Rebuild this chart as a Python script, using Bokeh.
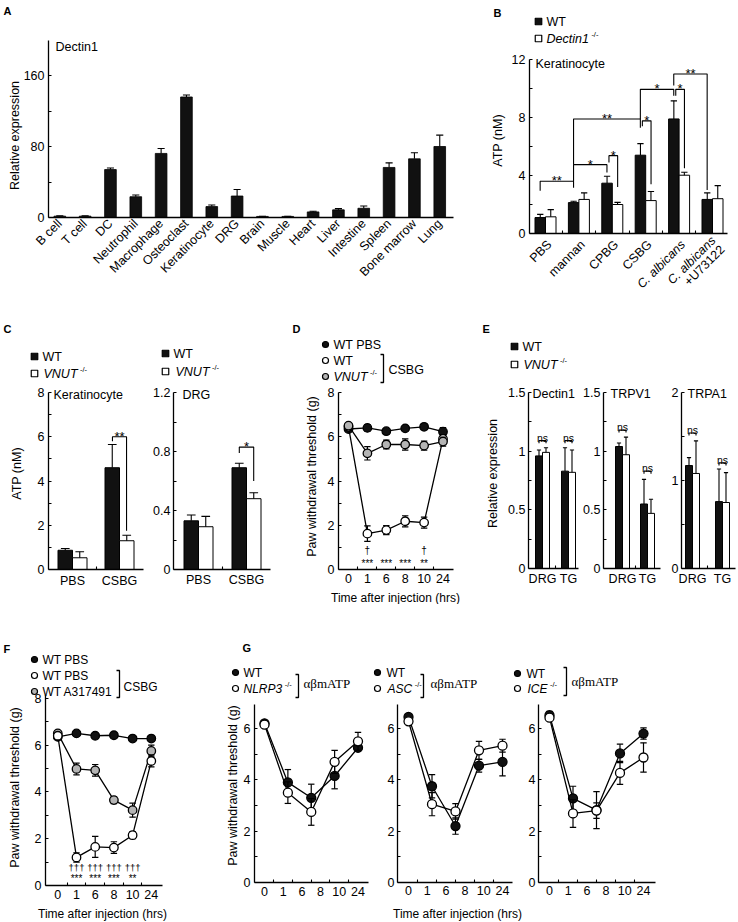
import math
from bokeh.plotting import figure
from bokeh.layouts import row, column
from bokeh.models import Label, FixedTicker, Range1d, CustomJSTickFormatter
from bokeh.embed import file_html
from bokeh.resources import INLINE

# ======================= DATA =======================
# A  Dectin1 expression
a_cells = ["B cell", "T cell", "DC", "Neutrophil", "Macrophage", "Osteoclast",
           "Keratinocyte", "DRG", "Brain", "Muscle", "Heart", "Liver",
           "Intestine", "Spleen", "Bone marrow", "Lung"]
a_expr = [1.5, 1.5, 54.0, 23.4, 72.2, 135.8, 12.3, 24.2, 1.2, 1.2, 6.3, 8.6, 10.4, 56.4, 66.1, 80.0]
a_err = [1.8, 1.8, 55.8, 25.3, 77.8, 138.0, 14.1, 31.6, 1.4, 1.4, 7.1, 10.0, 13.0, 61.6, 72.9, 92.8]
a_yticks = [0, 80, 160]
a_yminor = [40, 120]

# B  ATP release from keratinocytes
b_treat = ["PBS", "mannan", "CPBG", "CSBG", "C. albicans", "C. albicans"]
b_treat2 = ["", "", "", "", "", "+U73122"]
b_wt = [1.1, 2.13, 3.47, 5.4, 7.9, 2.35]
b_wt_err = [1.32, 2.22, 3.95, 6.2, 9.15, 2.8]
b_ko = [1.15, 2.35, 2.0, 2.27, 4.02, 2.4]
b_ko_err = [1.65, 2.8, 2.15, 2.9, 4.22, 3.3]
b_yticks = [0, 4, 8, 12]
b_yminor = [2, 6, 10]
b_sig_x0 = [-0.16, 0.84, 1.9, 0.84, 2.9, 2.84, 3.9, 3.84]
b_sig_x1 = [0.84, 1.84, 2.16, 2.84, 3.16, 3.84, 4.16, 4.84]
b_sig_y = [3.6, 4.75, 5.37, 7.9, 7.77, 9.94, 9.94, 11.0]
b_sig_yl = [2.95, 3.6, 4.9, 4.75, 7.4, 7.9, 9.5, 10.2]
b_sig_yr = [3.15, 4.2, 3.2, 7.3, 3.4, 9.5, 4.5, 3.0]
b_sig_txt = ["**", "*", "*", "**", "*", "*", "*", "**"]

# C  ATP release, WT vs VNUT-/-
c_groups = ["PBS", "CSBG"]
c_ker_wt = [0.87, 4.6]
c_ker_wt_err = [0.95, 5.65]
c_ker_ko = [0.53, 1.3]
c_ker_ko_err = [0.8, 1.55]
c_ker_sig = [0.85, 1.15, 6.0, 5.8, 1.75, "**"]
c_drg_wt = [0.33, 0.69]
c_drg_wt_err = [0.37, 0.72]
c_drg_ko = [0.29, 0.48]
c_drg_ko_err = [0.36, 0.52]
c_drg_sig = [0.85, 1.15, 0.83, 0.79, 0.6, "*"]

# D  paw withdrawal threshold
t_labels = ["0", "1", "6", "8", "10", "24"]
d_wt_pbs = [6.35, 6.4, 6.25, 6.38, 6.45, 6.23]
d_wt_pbs_err = [0.1, 0.15, 0.12, 0.1, 0.12, 0.18]
d_wt_csbg = [6.45, 1.62, 1.78, 2.18, 2.12, 5.9]
d_wt_csbg_err = [0.1, 0.35, 0.2, 0.25, 0.25, 0.2]
d_vnut_csbg = [6.5, 5.25, 5.65, 5.65, 5.6, 5.78]
d_vnut_csbg_err = [0.1, 0.3, 0.2, 0.25, 0.2, 0.2]
d_dagger = ["", "\u2020", "", "", "\u2020", ""]
d_stars = ["", "***", "***", "***", "**", ""]

# E  relative expression DRG / TG
e_tissue = ["DRG", "TG"]
e_dectin_wt = [0.96, 0.83]
e_dectin_wt_err = [1.01, 1.03]
e_dectin_ko = [0.99, 0.82]
e_dectin_ko_err = [1.03, 1.01]
e_dectin_ns = [1.09, 1.09]
e_trpv1_wt = [1.04, 0.55]
e_trpv1_wt_err = [1.07, 0.76]
e_trpv1_ko = [0.97, 0.47]
e_trpv1_ko_err = [1.12, 0.59]
e_trpv1_ns = [1.18, 0.83]
e_trpa1_wt = [1.17, 0.76]
e_trpa1_wt_err = [1.26, 1.13]
e_trpa1_ko = [1.08, 0.75]
e_trpa1_ko_err = [1.45, 1.09]
e_trpa1_ns = [1.54, 1.2]

# F  paw withdrawal threshold with A317491
f_wt_pbs = [6.35, 6.5, 6.4, 6.42, 6.28, 6.28]
f_wt_pbs_err = [0.1, 0.12, 0.1, 0.1, 0.1, 0.12]
f_csbg_pbs = [6.4, 1.2, 1.65, 1.62, 2.15, 5.32]
f_csbg_pbs_err = [0.1, 0.2, 0.45, 0.25, 0.15, 0.25]
f_csbg_a317 = [6.5, 4.98, 4.92, 3.65, 3.22, 5.75]
f_csbg_a317_err = [0.1, 0.25, 0.25, 0.15, 0.3, 0.25]
f_dagger = ["", "\u2020\u2020\u2020", "\u2020\u2020\u2020", "\u2020\u2020\u2020", "\u2020\u2020\u2020", ""]
f_stars = ["", "***", "***", "***", "**", ""]

# G  abmATP in inflammasome knockouts
g_pos = [0, 1.25, 2.5, 3.75, 5]
g_nlrp3_wt = [6.2, 3.9, 3.3, 4.15, 5.25]
g_nlrp3_wt_err = [0.1, 0.5, 0.53, 0.5, 0.12]
g_nlrp3_ko = [6.15, 3.5, 2.75, 4.7, 5.5]
g_nlrp3_ko_err = [0.1, 0.42, 0.52, 0.45, 0.35]
g_asc_wt = [6.45, 3.75, 2.2, 4.55, 4.7]
g_asc_wt_err = [0.1, 0.45, 0.32, 0.25, 0.55]
g_asc_ko = [6.28, 3.05, 2.77, 5.15, 5.33]
g_asc_ko_err = [0.1, 0.45, 0.3, 0.35, 0.25]
g_ice_wt = [6.52, 3.28, 2.82, 5.03, 5.8]
g_ice_wt_err = [0.15, 0.47, 0.72, 0.36, 0.22]
g_ice_ko = [6.42, 2.69, 2.8, 4.27, 4.87]
g_ice_ko_err = [0.1, 0.54, 0.3, 0.45, 0.57]

# ======================= STYLE / HELPERS =======================
SC = 1.0
FONT = "Liberation Sans"
SERIF = "Liberation Serif"
BLACK = "#111111"
GREY = "#b4b4b4"


def S(v):
    return int(round(v * SC))


def fs(v):
    return "%.1fpx" % (v * SC)


_W = dict(zip("ABCDEFGHIJKLMNOPQRSTUVWXYZ",
              [667, 667, 722, 722, 667, 611, 778, 722, 278, 500, 667, 556, 833, 722, 778, 667, 778, 722,
               667, 611, 722, 667, 944, 667, 667, 611]))
_W.update(zip("abcdefghijklmnopqrstuvwxyz",
              [556, 556, 500, 556, 556, 278, 556, 556, 222, 222, 500, 222, 833, 556, 556, 556, 556, 333,
               500, 278, 556, 500, 722, 500, 500, 500]))
_W.update({str(d): 556 for d in range(10)})
_W.update({" ": 278, "-": 333, "/": 278, ".": 278, "(": 333, ")": 333, "+": 584})


def tw(s, size):
    return sum(_W.get(c, 556) for c in s) * size / 1000.0


PANELS = []


class Pan:
    """One sub-plot. box = canvas area (ref px); axis = (y-axis x px, x-axis end px, zero-line y px)."""

    def __init__(self, box, axis, x0px, xstep, yunit, ytop, yticks, yminor, standoff=3):
        self.box = box
        bx0, by0, bx1, by1 = box
        ax0, ax1, ybot = axis
        self.x0px, self.xstep, self.y0px, self.yunit = x0px, xstep, ybot, yunit
        p = figure(frame_width=S(bx1) - S(bx0), frame_height=S(by1) - S(by0),
                   min_border_left=0, min_border_right=0, min_border_top=0, min_border_bottom=0,
                   x_range=Range1d(self.xd(bx0), self.xd(bx1)),
                   y_range=Range1d(self.yd(by1), self.yd(by0)),
                   output_backend="svg", toolbar_location=None, tools="", title=None)
        p.outline_line_color = None
        p.xgrid.visible = False
        p.ygrid.visible = False
        p.background_fill_color = "white"
        p.border_fill_color = "white"
        for ax in (p.xaxis[0], p.yaxis[0]):
            ax.axis_line_color = "black"
            ax.axis_line_width = 1.3
            ax.major_tick_line_color = "black"
            ax.minor_tick_line_color = "black"
            ax.major_tick_line_width = 1.1
            ax.minor_tick_line_width = 1.1
            ax.major_tick_in = 3
            ax.major_tick_out = 0
            ax.minor_tick_in = 3
            ax.minor_tick_out = 0
            ax.major_label_text_font = FONT
            ax.major_label_text_font_size = fs(12.5)
            ax.major_label_text_color = "black"
            ax.major_label_standoff = standoff
        ya = p.yaxis[0]
        ya.ticker = FixedTicker(ticks=yticks, minor_ticks=yminor)
        ya.formatter = CustomJSTickFormatter(code="return String(Math.round(tick * 1000) / 1000);")
        ya.bounds = (0, ytop)
        ya.fixed_location = self.xd(ax0)
        xa = p.xaxis[0]
        xa.fixed_location = 0
        xa.bounds = (self.xd(ax0), self.xd(ax1))
        xa.ticker = FixedTicker(ticks=[], minor_ticks=[])
        self.p = p
        PANELS.append(self)

    def xd(self, px):
        return (px - self.x0px) / self.xstep

    def yd(self, py):
        return (self.y0px - py) / self.yunit

    def xcats(self, labels, minor=None, angle=None):
        xa = self.p.xaxis[0]
        xa.ticker = FixedTicker(ticks=list(range(len(labels))), minor_ticks=minor or [])
        xa.major_label_overrides = {i: s for i, s in enumerate(labels)}
        xa.major_tick_in = 0
        if angle:
            xa.major_label_orientation = angle

    def text(self, x, y, txt, size=12.5, align="center", baseline="middle", font=FONT,
             style="normal", color="black", angle=0.0):
        self.p.add_layout(Label(x=x, y=y, text=txt, text_font=font, text_font_size=fs(size),
                                text_font_style=style, text_color=color, text_align=align,
                                text_baseline=baseline, angle=angle))


def find(px, py):
    for pn in PANELS:
        if pn.box[0] <= px < pn.box[2] and pn.box[1] <= py < pn.box[3]:
            return pn
    return PANELS[-1]


def put(px, py, txt, size=12.5, align="left", baseline="middle", font=FONT, style="normal",
        color="black", angle=0.0):
    pn = find(px, py)
    pn.text(pn.xd(px), pn.yd(py), txt, size, align, baseline, font, style, color, angle)


def mark(px, py, kind, size=6.5):
    pn = find(px, py)
    marker = "square" if kind.startswith("sq") else "circle"
    fill = BLACK if kind.endswith("black") else ("white" if kind.endswith("white") else GREY)
    pn.p.scatter([pn.xd(px)], [pn.yd(py)], marker=marker, size=size * SC, fill_color=fill,
                 line_color="black", line_width=1.2)


def italic_sup(px, py, main, size=12.5):
    put(px, py, main, size, style="italic")
    put(px + tw(main, size) + 2.5, py - 4, "-/-", 7.5)


def legend_bracket(px, py0, py1, stub=3):
    pn = find(px, py0)
    pn.p.line([pn.xd(px - stub), pn.xd(px), pn.xd(px), pn.xd(px - stub)],
              [pn.yd(py0), pn.yd(py0), pn.yd(py1), pn.yd(py1)],
              line_color="black", line_width=1.3)


def err_up(p, xs, tops, errs, cap, lw=1.1):
    p.segment(x0=xs, y0=tops, x1=xs, y1=errs, line_color="black", line_width=lw)
    p.segment(x0=[x - cap for x in xs], y0=errs, x1=[x + cap for x in xs], y1=errs,
              line_color="black", line_width=lw)


def err_both(p, xs, ys, es, cap, lw=1.2):
    lo = [y - e for y, e in zip(ys, es)]
    hi = [y + e for y, e in zip(ys, es)]
    p.segment(x0=xs, y0=lo, x1=xs, y1=hi, line_color="black", line_width=lw)
    for yy in (lo, hi):
        p.segment(x0=[x - cap for x in xs], y0=yy, x1=[x + cap for x in xs], y1=yy,
                  line_color="black", line_width=lw)


def grouped(pn, wt, wt_err, ko, ko_err, bw_px):
    bw = bw_px / pn.xstep
    xw = [i - bw / 2 for i in range(len(wt))]
    xk = [i + bw / 2 for i in range(len(ko))]
    pn.p.vbar(x=xw, top=wt, width=bw, fill_color=BLACK, line_color="black", line_width=1)
    pn.p.vbar(x=xk, top=ko, width=bw, fill_color="white", line_color="black", line_width=1)
    err_up(pn.p, xw, wt, wt_err, bw * 0.3)
    err_up(pn.p, xk, ko, ko_err, bw * 0.3)
    return bw


def bracket(p, x0, x1, yt, yl, yr, lw=1.1):
    p.line([x0, x0, x1, x1], [yl, yt, yt, yr], line_color="black", line_width=lw)


def series(pn, xs, ys, es, fill, cap_px=3.2, size=8.5):
    p = pn.p
    p.line(xs, ys, line_color="black", line_width=1.3)
    err_both(p, xs, ys, es, cap_px / pn.xstep)
    p.scatter(xs, ys, marker="circle", size=size * SC, fill_color=fill, line_color="black",
              line_width=1.3)


# ======================= PANEL A =======================
pa = Pan((0, 0, 480, 290), (48, 453, 217), 59.3, 25.33, 0.8875, 200, a_yticks, a_yminor, 4)
pa.xcats(a_cells, angle=math.pi / 4)
xa_ = list(range(len(a_cells)))
pa.p.vbar(x=xa_, top=a_expr, width=0.46, fill_color=BLACK, line_color="black", line_width=0.8)
err_up(pa.p, xa_, a_expr, a_err, 0.14)

# ======================= PANEL B =======================
pb = Pan((480, 0, 737, 290), (529, 727, 233), 545, 33.4, 14.5, 12, b_yticks, b_yminor, 4)
pb.p.xaxis[0].ticker = FixedTicker(ticks=[], minor_ticks=[i + 0.5 for i in range(len(b_treat) - 1)])
grouped(pb, b_wt, b_wt_err, b_ko, b_ko_err, 10.5)
for x0, x1, yt, yl, yr, t in zip(b_sig_x0, b_sig_x1, b_sig_y, b_sig_yl, b_sig_yr, b_sig_txt):
    bracket(pb.p, x0, x1, yt, yl, yr)
    pb.text((x0 + x1) / 2, yt + 0.6 / pb.yunit, t, 13, baseline="alphabetic")
for i, (t1, t2) in enumerate(zip(b_treat, b_treat2)):
    st = "italic" if "albicans" in t1 else "normal"
    if t2:
        pb.text(i + 1.0 / pb.xstep, -5.0 / pb.yunit, t1, 12.5, "right", "middle", style=st, angle=math.pi / 4)
        pb.text(i + 10.0 / pb.xstep, -14.0 / pb.yunit, t2, 12.5, "right", "middle", angle=math.pi / 4)
    else:
        pb.text(i + 4.0 / pb.xstep, -9.0 / pb.yunit, t1, 12.5, "right", "middle", style=st, angle=math.pi / 4)

# ======================= PANEL C =======================
pcl = Pan((0, 290, 150, 604), (48, 143, 569), 72, 47, 22.125, 8, [0, 2, 4, 6, 8], [1, 3, 5, 7], 4)
pcl.xcats(c_groups, minor=[0.5])
grouped(pcl, c_ker_wt, c_ker_wt_err, c_ker_ko, c_ker_ko_err, 14.5)
bracket(pcl.p, *c_ker_sig[:5])
pcl.text((c_ker_sig[0] + c_ker_sig[1]) / 2, c_ker_sig[2] + 0.6 / pcl.yunit, c_ker_sig[5], 13, baseline="alphabetic")

pcr = Pan((150, 290, 290, 604), (173, 270, 569), 198, 48, 147.5, 1.2, [0, 0.4, 0.8, 1.2], [0.2, 0.6, 1.0], 3)
pcr.xcats(c_groups, minor=[0.5])
grouped(pcr, c_drg_wt, c_drg_wt_err, c_drg_ko, c_drg_ko_err, 14.5)
bracket(pcr.p, *c_drg_sig[:5])
pcr.text((c_drg_sig[0] + c_drg_sig[1]) / 2, c_drg_sig[2] + 0.6 / pcr.yunit, c_drg_sig[5], 13, baseline="alphabetic")

# ======================= PANEL D =======================
pd_ = Pan((290, 290, 480, 604), (338, 453, 569), 348, 18.9, 22.125, 8, [0, 2, 4, 6, 8], [1, 3, 5, 7], 4)
pd_.xcats(t_labels, minor=[i + 0.5 for i in range(len(t_labels) - 1)])
xt = list(range(len(t_labels)))
series(pd_, xt, d_wt_pbs, d_wt_pbs_err, BLACK)
series(pd_, xt, d_wt_csbg, d_wt_csbg_err, "white")
series(pd_, xt, d_vnut_csbg, d_vnut_csbg_err, GREY)
for i, (dg, st) in enumerate(zip(d_dagger, d_stars)):
    if dg:
        pd_.text(i, 0.85, dg, 10)
    if st:
        pd_.text(i, 0.25, st, 10)

# ======================= PANEL E =======================
pe1 = Pan((480, 290, 581, 604), (528, 578, 568), 542, 26, 117.3, 1.5, [0, 0.5, 1, 1.5], [0.25, 0.75, 1.25], 3)
pe2 = Pan((581, 290, 663, 604), (603, 660, 568), 622, 25, 117.3, 1.5, [0, 0.5, 1, 1.5], [0.25, 0.75, 1.25], 3)
pe3 = Pan((663, 290, 737, 604), (681, 735, 568), 692, 30, 88, 2, [0, 1, 2], [0.5, 1.5], 3)
for pn, wt, wte, ko, koe, ns in ((pe1, e_dectin_wt, e_dectin_wt_err, e_dectin_ko, e_dectin_ko_err, e_dectin_ns),
                                 (pe2, e_trpv1_wt, e_trpv1_wt_err, e_trpv1_ko, e_trpv1_ko_err, e_trpv1_ns),
                                 (pe3, e_trpa1_wt, e_trpa1_wt_err, e_trpa1_ko, e_trpa1_ko_err, e_trpa1_ns)):
    pn.xcats(e_tissue, minor=[0.5])
    bw = grouped(pn, wt, wte, ko, koe, 7)
    for g, yb in enumerate(ns):
        bracket(pn.p, g - bw / 2, g + bw / 2, yb, yb - 2.5 / pn.yunit, yb - 2.5 / pn.yunit)
        pn.text(g, yb + 3.0 / pn.yunit, "ns", 10.5, baseline="alphabetic")

# ======================= PANEL F =======================
pf = Pan((0, 604, 225, 921), (45, 162, 885), 57.3, 18.7, 23.4, 8.1, [0, 2, 4, 6, 8], [1, 3, 5, 7], 4)
pf.xcats(t_labels, minor=[i + 0.5 for i in range(len(t_labels) - 1)])
series(pf, xt, f_wt_pbs, f_wt_pbs_err, BLACK)
series(pf, xt, f_csbg_a317, f_csbg_a317_err, GREY)
series(pf, xt, f_csbg_pbs, f_csbg_pbs_err, "white")
for i, (dg, st) in enumerate(zip(f_dagger, f_stars)):
    if dg:
        pf.text(i, 0.75, dg, 9.5)
    if st:
        pf.text(i, 0.28, st, 10)

# ======================= PANEL G =======================
pg1 = Pan((225, 604, 385, 921), (254, 368, 882), 264, 18.7, 25.67, 6.95, [0, 2, 4, 6], [1, 3, 5], 4)
pg2 = Pan((385, 604, 525, 921), (397, 512, 882), 408, 18.8, 25.67, 6.95, [0, 2, 4, 6], [1, 3, 5], 3)
pg3 = Pan((525, 604, 737, 921), (538, 655, 882), 549, 18.8, 25.67, 6.95, [0, 2, 4, 6], [1, 3, 5], 3)
for pn, wt, wte, ko, koe in ((pg1, g_nlrp3_wt, g_nlrp3_wt_err, g_nlrp3_ko, g_nlrp3_ko_err),
                             (pg2, g_asc_wt, g_asc_wt_err, g_asc_ko, g_asc_ko_err),
                             (pg3, g_ice_wt, g_ice_wt_err, g_ice_ko, g_ice_ko_err)):
    pn.xcats(t_labels, minor=[i + 0.5 for i in range(len(t_labels) - 1)])
    series(pn, g_pos, wt, wte, BLACK, size=9)
    series(pn, g_pos, ko, koe, "white", size=9)

# ======================= TEXT / LEGENDS =======================
# A
put(3, 10, "A", 11, style="bold")
put(55, 46, "Dectin1")
put(14, 135, "Relative expression", align="center", angle=math.pi / 2)
# B
put(493, 12, "B", 11, style="bold")
mark(538, 21, "sq_black")
put(546, 21, "WT")
mark(538, 38, "sq_white")
italic_sup(546, 38, "Dectin1")
put(535, 63, "Keratinocyte")
put(497, 140, "ATP (nM)", align="center", angle=math.pi / 2)
# C
put(3, 328, "C", 11, style="bold")
mark(34, 356, "sq_black")
put(42, 356, "WT")
mark(34, 373, "sq_white")
italic_sup(43, 373, "VNUT")
put(53, 394, "Keratinocyte")
mark(165, 353, "sq_black")
put(173, 353, "WT")
mark(165, 371, "sq_white")
italic_sup(175, 371, "VNUT")
put(182, 394, "DRG")
put(16, 473, "ATP (nM)", align="center", angle=math.pi / 2)
# D
put(292, 328, "D", 11, style="bold")
mark(325, 344, "dot_black", 6)
put(333, 344, "WT PBS")
mark(325, 360, "dot_white", 6)
put(333, 360, "WT")
mark(325, 376, "dot_grey", 6)
italic_sup(333, 376, "VNUT")
legend_bracket(383, 354, 382)
put(388, 369, "CSBG")
put(311, 476, "Paw withdrawal threshold (g)", align="center", angle=math.pi / 2)
put(395, 597, "Time after injection (hrs)", 12, align="center")
# E
put(482, 328, "E", 11, style="bold")
mark(514, 346, "sq_black")
put(522, 346, "WT")
mark(514, 364, "sq_white")
italic_sup(523, 364, "VNUT")
put(532, 393, "Dectin1")
put(610, 393, "TRPV1")
put(687, 393, "TRPA1")
put(492, 473, "Relative expression", align="center", angle=math.pi / 2)
# F
put(3, 648, "F", 11, style="bold")
mark(34, 659, "dot_black", 6)
put(42, 659, "WT PBS", 12)
mark(34, 675, "dot_white", 6)
put(42, 675, "WT PBS", 12)
mark(34, 691, "dot_grey", 6)
put(42, 691, "WT A317491", 12)
legend_bracket(119, 670, 697)
put(123, 686, "CSBG", 12)
put(14, 787, "Paw withdrawal threshold (g)", align="center", angle=math.pi / 2)
put(102, 913, "Time after injection (hrs)", 12, align="center")
# G
put(242, 647, "G", 11, style="bold")
mark(235, 672, "dot_black", 6)
put(243, 672, "WT", 12)
mark(235, 688, "dot_white", 6)
italic_sup(243, 688, "NLRP3", 12)
legend_bracket(298, 674, 697)
put(303, 683, "\u03b1\u03b2mATP", 13, font=SERIF)
mark(377, 672, "dot_black", 6)
put(386, 672, "WT", 12)
mark(377, 688, "dot_white", 6)
italic_sup(387, 688, "ASC", 12)
legend_bracket(423, 674, 697)
put(430, 683, "\u03b1\u03b2mATP", 13, font=SERIF)
mark(517, 673, "dot_black", 6)
put(526, 673, "WT", 12)
mark(517, 688, "dot_white", 6)
italic_sup(527, 688, "ICE", 12)
legend_bracket(566, 667, 695)
put(571, 681, "\u03b1\u03b2mATP", 13, font=SERIF)
put(232, 785, "Paw withdrawal threshold (g)", align="center", angle=math.pi / 2)
put(457, 913, "Time after injection (hrs)", 12, align="center")

# ======================= LAYOUT =======================
lay = column(row(pa.p, pb.p),
             row(pcl.p, pcr.p, pd_.p, pe1.p, pe2.p, pe3.p),
             row(pf.p, pg1.p, pg2.p, pg3.p))

open("out.html", "w").write(file_html(lay, INLINE))
